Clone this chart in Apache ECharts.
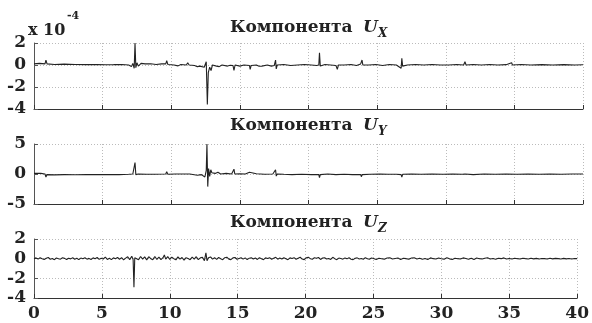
<!DOCTYPE html>
<html><head><meta charset="utf-8">
<script src="https://cdn.jsdelivr.net/npm/echarts@6/dist/echarts.min.js"></script>
<style>html,body{margin:0;padding:0;background:#fff}#c{width:592px;height:323px}</style>
</head><body><div id="c"></div>
<script>
// Values in units of 10^-4
const uxData = [[0,0.1],[0.4,0.15],[0.8,0.1],[0.87,0.45],[0.95,0.1],[1.5,0.05],[2.2,0.08],[3,0.05],[3.8,0.03],[4.6,0.05],[5.2,0.02],[5.8,0.03],[6.4,0.05],[6.9,0.0],[7.1,-0.15],[7.2,0.15],[7.3,-0.3],[7.36,2.0],[7.42,-0.25],[7.5,0.2],[7.6,-0.1],[7.8,0.15],[8.1,0.1],[8.5,0.12],[8.9,0.05],[9.3,0.1],[9.6,0.1],[9.67,0.4],[9.75,0.05],[10.2,0.0],[10.5,-0.08],[10.7,0.05],[11.1,0.0],[11.2,0.2],[11.3,0.0],[11.7,-0.05],[11.9,-0.15],[12.1,-0.1],[12.4,-0.2],[12.55,0.3],[12.63,-3.6],[12.7,-0.7],[12.8,-0.2],[12.9,-0.5],[13.0,0.0],[13.3,-0.1],[13.5,-0.15],[13.7,0.0],[14.1,-0.1],[14.3,-0.02],[14.5,-0.05],[14.57,-0.5],[14.65,0.0],[15.0,-0.1],[15.3,0.0],[15.7,-0.05],[15.75,-0.4],[15.82,-0.05],[16.2,0.0],[16.4,-0.12],[16.6,-0.1],[17.0,0.0],[17.3,-0.1],[17.5,-0.05],[17.6,0.45],[17.65,-0.35],[17.72,0.0],[18.2,0.05],[18.7,-0.05],[19.2,0.0],[19.7,0.05],[20.2,0.0],[20.6,-0.05],[20.75,0.0],[20.8,1.1],[20.86,-0.1],[21.2,0.05],[21.6,0.0],[22.0,-0.05],[22.1,-0.4],[22.18,0.0],[22.6,0.0],[23.1,0.05],[23.5,-0.05],[23.8,0.1],[23.9,0.45],[23.96,0.0],[24.4,0.0],[24.9,0.05],[25.4,-0.05],[25.9,0.05],[26.4,0.0],[26.75,-0.3],[26.8,0.6],[26.86,-0.1],[27.2,0.0],[27.8,0.05],[28.4,0.0],[29,0.05],[29.6,0.0],[30.2,0.0],[30.8,0.05],[31.3,0.0],[31.4,0.3],[31.48,0.0],[32,0.05],[32.6,0.0],[33.2,0.05],[33.8,0.0],[34.4,0.03],[34.8,0.2],[34.86,0.0],[35.5,0.05],[36.2,0.0],[37,0.03],[37.8,0.0],[38.6,0.03],[39.4,0.0],[40,0.02]];

const uyData = [[0,0.1],[0.5,0.1],[0.8,0.0],[0.87,-0.5],[0.95,-0.1],[1.5,-0.15],[2.2,-0.1],[3,-0.12],[3.8,-0.1],[4.6,-0.08],[5.4,-0.1],[6.2,-0.1],[6.9,-0.05],[7.2,0.0],[7.3,-0.2],[7.36,1.9],[7.42,-0.1],[7.6,0.0],[8.2,-0.05],[8.8,-0.05],[9.6,0.0],[9.67,0.4],[9.75,-0.05],[10.3,0.0],[10.9,0.0],[11.35,0.0],[11.4,0.3],[11.45,0.0],[11.9,-0.2],[12.2,-0.1],[12.45,-0.5],[12.55,0.6],[12.6,5.0],[12.66,-2.1],[12.72,0.9],[12.8,-0.4],[12.88,0.7],[12.96,0.2],[13.05,0.5],[13.2,0.1],[13.4,0.3],[13.6,0.0],[14.0,0.1],[14.4,0.0],[14.57,0.8],[14.63,0.0],[15.0,0.05],[15.4,0.0],[15.7,0.3],[15.76,0.0],[16.2,0.05],[16.8,-0.05],[17.4,0.0],[17.6,0.7],[17.65,-0.35],[17.72,0.0],[18.2,-0.05],[18.8,-0.1],[19.5,-0.05],[20.2,-0.1],[20.75,-0.1],[20.8,-0.6],[20.86,-0.1],[21.4,0.0],[22.0,-0.1],[22.6,-0.05],[23.2,-0.1],[23.8,-0.1],[23.85,-0.45],[23.92,-0.1],[24.5,-0.05],[25.2,0.0],[25.8,-0.05],[26.4,-0.05],[26.75,-0.1],[26.8,-0.5],[26.86,-0.05],[27.5,0.0],[28.2,-0.05],[29.0,0.0],[29.8,-0.05],[30.5,0.0],[31.2,-0.05],[31.4,0.0],[32,-0.1],[32.8,0.0],[33.6,-0.05],[34.4,0.0],[35.2,-0.05],[36,0.0],[36.8,-0.05],[37.6,0.0],[38.4,-0.05],[39.2,0.0],[40,0.0]];

const uzData = [[0,0.0],[0.15,0.08],[0.3,-0.05],[0.45,0.1],[0.6,0.0],[0.75,-0.08],[0.9,0.05],[1.05,0.12],[1.2,-0.06],[1.35,0.02],[1.5,-0.1],[1.65,0.07],[1.8,0.0],[1.95,-0.05],[2.1,0.1],[2.25,0.03],[2.4,-0.08],[2.55,0.05],[2.7,-0.02],[2.85,0.09],[3.0,-0.06],[3.15,0.04],[3.3,-0.1],[3.45,0.06],[3.6,0.0],[3.75,0.1],[3.9,-0.05],[4.05,0.03],[4.2,-0.09],[4.35,0.08],[4.5,0.0],[4.65,0.12],[4.8,-0.07],[4.95,0.05],[5.1,-0.03],[5.25,0.15],[5.4,-0.08],[5.55,0.04],[5.7,-0.1],[5.85,0.08],[6.0,0.0],[6.15,0.12],[6.3,-0.06],[6.45,0.1],[6.6,-0.12],[6.75,0.05],[6.9,0.2],[7.05,-0.1],[7.2,0.25],[7.3,-0.1],[7.36,-2.9],[7.42,0.1],[7.55,0.3],[7.7,-0.1],[7.85,0.22],[8.0,-0.05],[8.15,0.18],[8.3,-0.12],[8.45,0.2],[8.6,0.0],[8.75,-0.1],[8.9,0.22],[9.05,-0.08],[9.2,0.15],[9.35,-0.1],[9.5,0.1],[9.6,0.38],[9.7,-0.05],[9.85,0.2],[10.0,-0.08],[10.15,0.15],[10.3,0.0],[10.45,-0.12],[10.6,0.18],[10.75,-0.05],[10.9,0.12],[11.05,-0.15],[11.2,0.1],[11.35,0.02],[11.5,-0.1],[11.65,0.15],[11.8,-0.05],[11.95,0.2],[12.1,-0.1],[12.25,0.08],[12.4,0.15],[12.55,-0.2],[12.66,0.6],[12.74,-0.2],[12.85,0.1],[13.0,0.18],[13.15,-0.05],[13.3,0.1],[13.45,-0.08],[13.6,0.12],[13.75,0.0],[13.9,-0.1],[14.05,0.1],[14.2,0.15],[14.35,-0.05],[14.5,-0.1],[14.65,0.08],[14.8,0.12],[14.95,-0.06],[15.1,0.02],[15.25,0.1],[15.4,-0.05],[15.55,0.08],[15.7,-0.1],[15.85,0.05],[16.0,0.1],[16.15,-0.04],[16.3,0.06],[16.45,-0.08],[16.6,0.1],[16.75,0.0],[16.9,-0.1],[17.05,0.08],[17.2,0.02],[17.35,0.1],[17.5,-0.06],[17.65,0.05],[17.8,0.14],[17.95,-0.05],[18.1,0.06],[18.25,-0.04],[18.4,0.1],[18.55,0.0],[18.7,-0.1],[18.85,0.08],[19.0,0.02],[19.15,0.1],[19.3,-0.06],[19.45,0.05],[19.6,0.14],[19.75,-0.04],[19.9,-0.1],[20.05,0.08],[20.2,0.14],[20.35,0.0],[20.5,-0.06],[20.65,0.1],[20.8,0.04],[20.95,0.12],[21.1,-0.08],[21.25,0.06],[21.4,0.1],[21.55,-0.04],[21.7,0.02],[21.85,-0.08],[22.0,0.14],[22.15,0.0],[22.3,-0.1],[22.45,0.06],[22.6,0.02],[22.75,-0.05],[22.9,0.08],[23.05,-0.02],[23.2,0.1],[23.35,-0.06],[23.5,-0.1],[23.65,0.04],[23.8,0.08],[23.95,-0.03],[24.1,0.02],[24.25,-0.06],[24.4,0.1],[24.55,0.0],[24.7,-0.05],[24.85,0.06],[25.0,0.02],[25.2,-0.08],[25.4,0.05],[25.6,0.0],[25.8,-0.05],[26.0,0.07],[26.2,0.1],[26.4,-0.04],[26.6,0.02],[26.8,0.06],[27.0,-0.08],[27.2,0.04],[27.4,0.0],[27.6,-0.05],[27.8,0.06],[28.0,0.1],[28.2,-0.03],[28.4,0.04],[28.6,-0.06],[28.8,0.02],[29.0,-0.08],[29.2,0.08],[29.4,0.0],[29.6,-0.04],[29.8,0.06],[30.0,0.0],[30.2,-0.05],[30.4,0.1],[30.6,-0.02],[30.8,-0.08],[31.0,0.05],[31.2,0.0],[31.4,-0.04],[31.6,0.08],[31.8,0.02],[32.0,-0.05],[32.2,0.04],[32.4,-0.08],[32.6,0.06],[32.8,0.0],[33.0,-0.04],[33.2,0.05],[33.4,0.09],[33.6,-0.03],[33.8,0.02],[34.0,-0.05],[34.2,0.04],[34.4,0.0],[34.6,0.08],[34.8,-0.04],[35.0,0.02],[35.2,-0.03],[35.4,0.05],[35.6,0.0],[35.8,-0.04],[36.0,0.04],[36.2,0.0],[36.4,-0.03],[36.6,0.04],[36.8,-0.02],[37.0,0.03],[37.2,-0.04],[37.4,0.02],[37.6,0.0],[37.8,-0.03],[38.0,0.04],[38.2,-0.02],[38.4,0.03],[38.6,0.0],[38.8,-0.03],[39.0,0.03],[39.2,-0.02],[39.4,0.02],[39.6,-0.03],[39.8,0.02],[40,0.0]];

const titleMain = 'Компонента';
const titleSubs = ['X', 'Y', 'Z'];
const yRanges = [[-4, 2, 2], [-5, 5, 5], [-4, 2, 2]];
const xRange = [0, 40, 5];
const scaleLabel = 'x 10';
const scaleExp = '-4';

const FONT = 'DejaVu Serif';
const grids = [
  {left: 34, right: 9, top: 43, height: 66},
  {left: 34, right: 9, top: 144, height: 60},
  {left: 34, right: 9, top: 239, height: 59}
];
const titleTops = [19, 117, 214];
const seriesData = [uxData, uyData, uzData];

const chart = echarts.init(document.getElementById('c'), null, {renderer: 'canvas'});
const xAxes = [], yAxes = [], series = [], graphics = [];
for (let i = 0; i < 3; i++) {
  xAxes.push({
    gridIndex: i, type: 'value', min: xRange[0], max: xRange[1], interval: xRange[2],
    axisLine: {show: true, onZero: false, lineStyle: {color: '#333', width: 1}},
    axisTick: {show: true, inside: true, length: 4, lineStyle: {color: '#333'}},
    axisLabel: {show: i === 2, color: '#222', fontFamily: FONT, fontWeight: 'bold', fontSize: 17, margin: 7},
    splitLine: {show: true, lineStyle: {color: '#bbb', type: [1, 2], width: 1}}
  });
  yAxes.push({
    gridIndex: i, type: 'value', min: yRanges[i][0], max: yRanges[i][1], interval: yRanges[i][2],
    axisLine: {show: true, onZero: false, lineStyle: {color: '#555', width: 1}},
    axisTick: {show: true, inside: true, length: 4, lineStyle: {color: '#555'}},
    axisLabel: {color: '#222', fontFamily: FONT, fontWeight: 'bold', fontSize: 17, margin: 8},
    splitLine: {show: true, lineStyle: {color: '#bbb', type: [1, 2], width: 1}}
  });
  series.push({
    type: 'line', xAxisIndex: i, yAxisIndex: i, data: seriesData[i],
    showSymbol: false, symbol: 'none', animation: false,
    lineStyle: {color: '#222', width: 1.1}
  });
  graphics.push({type: 'text', left: 230, top: titleTops[i],
    style: {text: titleMain, font: 'bold 17px "' + FONT + '"', fill: '#222'}});
  graphics.push({type: 'text', left: 363, top: titleTops[i],
    style: {text: 'U', font: 'italic bold 17px "' + FONT + '"', fill: '#222'}});
  graphics.push({type: 'text', left: 378, top: titleTops[i] + 9,
    style: {text: titleSubs[i], font: 'italic bold 12px "' + FONT + '"', fill: '#222'}});
}
graphics.push({type: 'text', left: 28, top: 23,
  style: {text: scaleLabel, font: 'bold 16px "' + FONT + '"', fill: '#222'}});
graphics.push({type: 'text', left: 67, top: 11,
  style: {text: scaleExp, font: 'bold 11px "' + FONT + '"', fill: '#222'}});

chart.setOption({
  animation: false,
  backgroundColor: '#fff',
  grid: grids,
  xAxis: xAxes,
  yAxis: yAxes,
  series: series,
  graphic: graphics
});
</script></body></html>
